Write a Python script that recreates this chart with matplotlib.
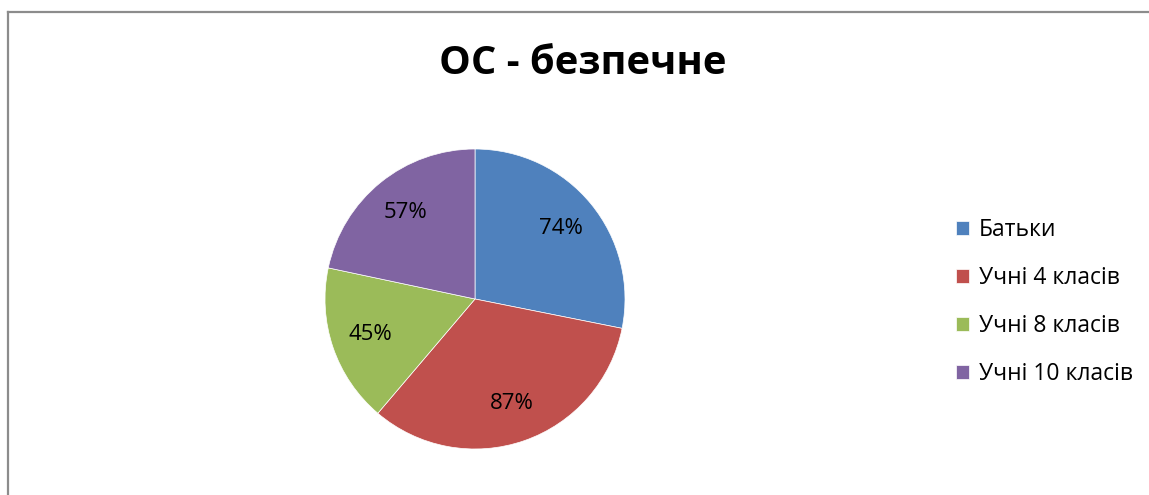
import matplotlib.pyplot as plt
from matplotlib.lines import Line2D

categories = ['Батьки', 'Учні 4 класів', 'Учні 8 класів', 'Учні 10 класів']
values = [74, 87, 45, 57]
colors = ['#4F81BD', '#C0504D', '#9BBB59', '#8064A2']
title = 'ОС - безпечне'

plt.rcParams['font.family'] = ['Open Sans', 'DejaVu Sans']

W, H = 1149, 495
fig = plt.figure(figsize=(W / 100, H / 100), dpi=100)

# chart frame (only left and top edges are visible in the crop)
fig.add_artist(Line2D([7.5 / W, 7.5 / W], [0, 1 - 12 / H], color='#8c8c8c', lw=1.6))
fig.add_artist(Line2D([7.5 / W, 1], [1 - 12 / H, 1 - 12 / H], color='#8c8c8c', lw=1.6))

# pie centre at (475, 299) px, radius 150 px
cx, cy, r = 475, 299, 150
ax = fig.add_axes([(cx - r) / W, (H - cy - r) / H, 2 * r / W, 2 * r / H])
total = sum(values)
wedges, texts, autotexts = ax.pie(
    values, colors=colors, startangle=90, counterclock=False,
    autopct=lambda p: f'{p * total / 100:.0f}%', pctdistance=0.74,
    wedgeprops=dict(edgecolor='white', linewidth=0.5),
    textprops=dict(fontsize=16, color='black'))
ax.set_xlim(-1, 1)
ax.set_ylim(-1, 1)

fig.text(583 / W, 1 - 64 / H, title, ha='center', va='center',
         fontsize=28.7, fontweight='bold')

fig.legend(wedges, categories, loc='center left',
           bbox_to_anchor=(935 / W, 1 - 302 / H), frameon=False,
           fontsize=16.5, handlelength=0.6, handleheight=0.6,
           handletextpad=0.4, labelspacing=1.05)

fig.savefig('out.png', dpi=100)
